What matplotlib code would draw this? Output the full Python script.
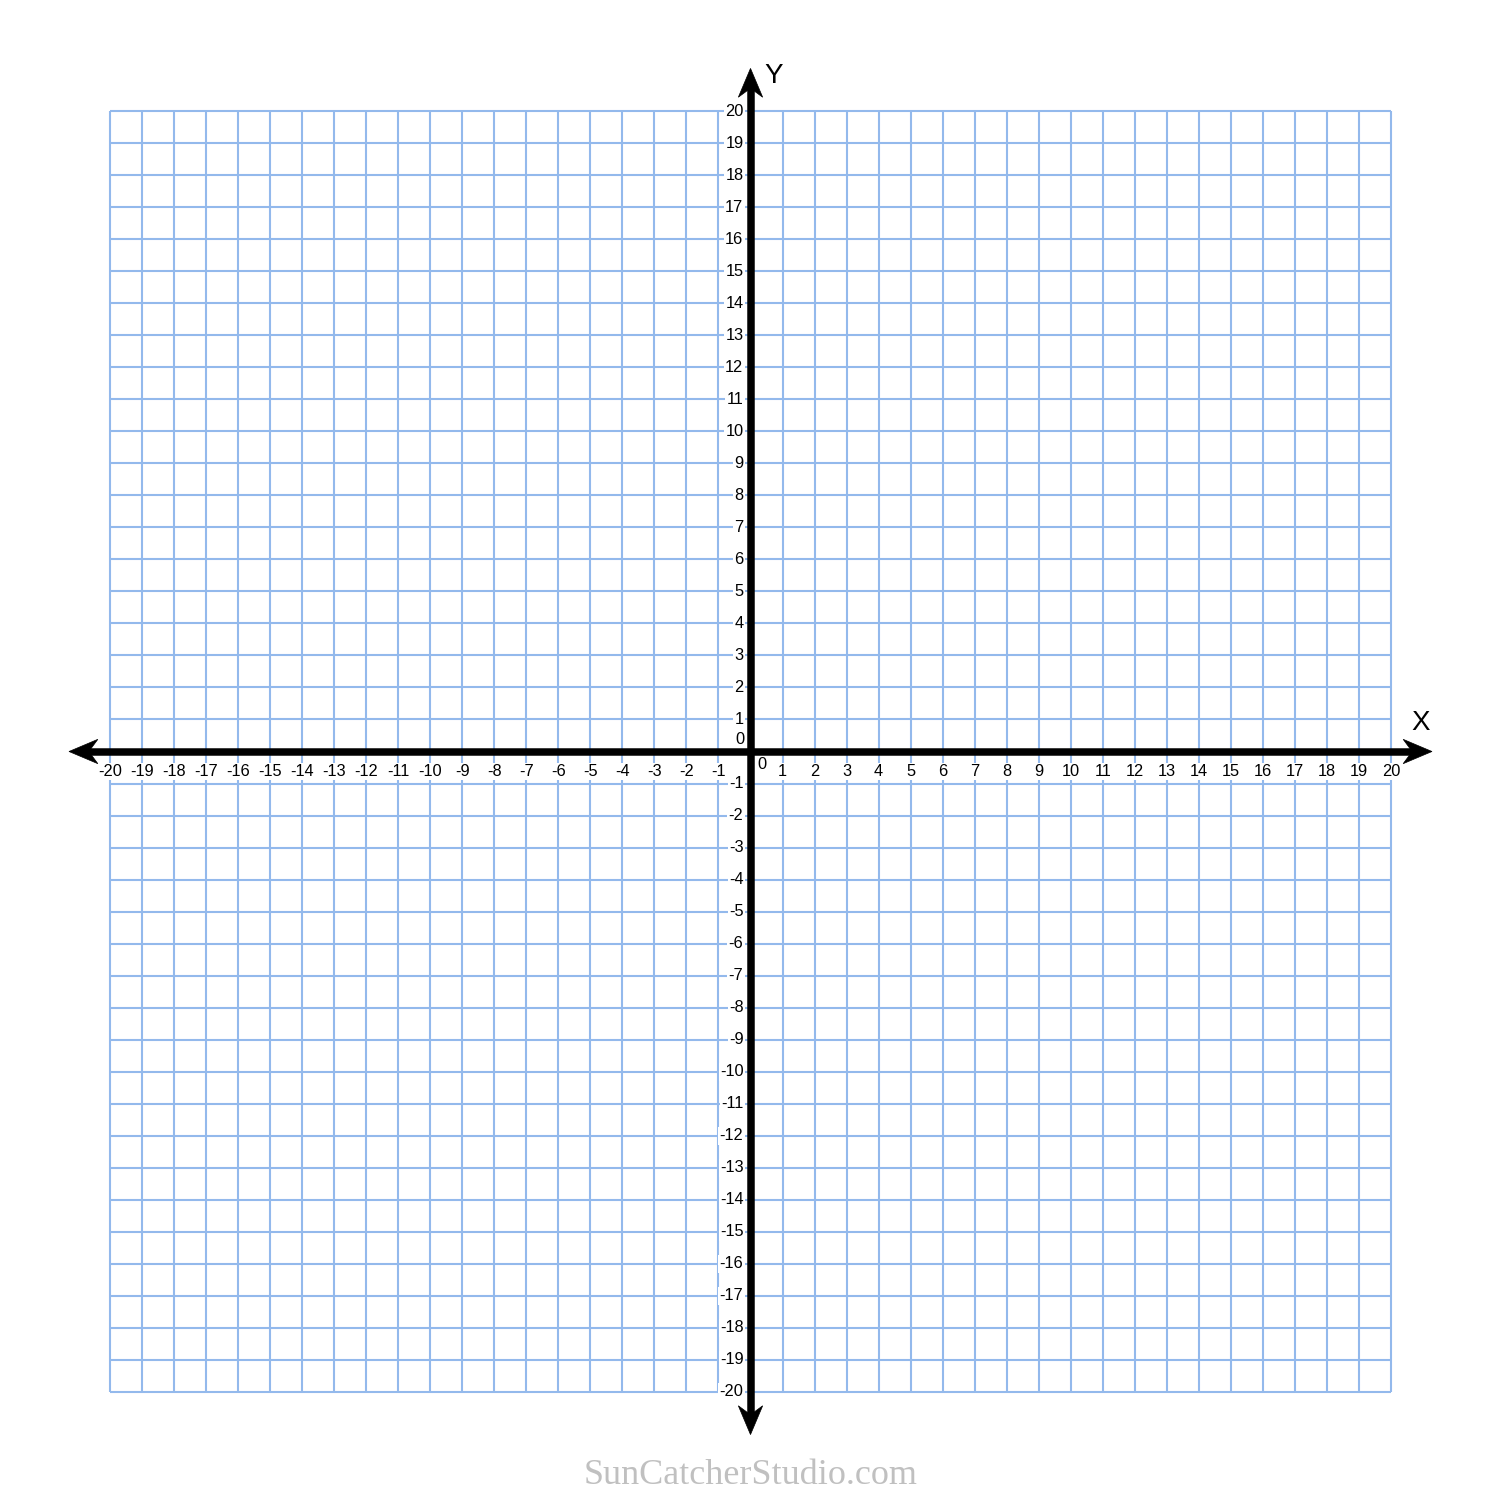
import matplotlib
matplotlib.use("Agg")
import matplotlib.pyplot as plt
from matplotlib.patches import Polygon
import numpy as np

# Data
x_ticks = list(range(-20, 21))
y_ticks = list(range(-20, 21))
x_labels = [str(v) for v in x_ticks if v != 0]
y_labels = [str(v) for v in y_ticks if v != 0]
axis_names = ["X", "Y"]
watermark = "SunCatcherStudio.com"

W, H, DPI = 1493, 1500, 100
fig = plt.figure(figsize=(W / DPI, H / DPI), dpi=DPI)
ax = fig.add_axes([0, 0, 1, 1])
scale = (1391 - 110) / 40.0
ox, oy = 750.5, 751.5
ax.set_xlim(-ox / scale, (W - ox) / scale)
ax.set_ylim(-(H - oy) / scale, oy / scale)
ax.axis("off")

grid_c = "#93b9ec"
lo, hi = min(x_ticks), max(x_ticks)
for v in x_ticks:
    ax.plot([v, v], [min(y_ticks), max(y_ticks)], color=grid_c, lw=1.5, zorder=1, solid_capstyle="butt")
for v in y_ticks:
    ax.plot([lo, hi], [v, v], color=grid_c, lw=1.5, zorder=1, solid_capstyle="butt")

font = "Liberation Sans"
fs = 11.8
bb = dict(facecolor="white", edgecolor="none", pad=1.0)
for v in x_ticks:
    if v == 0:
        continue
    ax.text(v, -0.62, str(v), ha="center", va="center", fontsize=fs, family=font,
            bbox=bb, zorder=2)
for v in y_ticks:
    if v == 0:
        continue
    ax.text(-0.22, v, str(v), ha="right", va="center", fontsize=fs, family=font,
            bbox=bb, zorder=2)
ax.text(-0.32, 0.37, "0", ha="center", va="center", fontsize=fs, family=font, zorder=2)
ax.text(0.36, -0.42, "0", ha="center", va="center", fontsize=fs, family=font, zorder=2)

# axes with arrowheads
tip = 21.33
L, hw, notch = 0.9, 0.38, 0.28
ax.plot([-tip + L - notch, tip - L + notch], [0, 0], color="black", lw=5.4, zorder=3, solid_capstyle="butt")
ax.plot([0, 0], [-tip + L - notch, tip - L + notch], color="black", lw=5.4, zorder=3, solid_capstyle="butt")

def head(p, d):
    d = np.array(d, float)
    n = np.array([-d[1], d[0]])
    p = np.array(p, float)
    back = p - d * L
    pts = [p, back + n * hw, p - d * (L - notch), back - n * hw]
    return np.array(pts)

for p, d in [((tip - 0.05, 0), (1, 0)), ((-tip + 0.05, 0), (-1, 0)),
             ((0, tip), (0, 1)), ((0, -tip), (0, -1))]:
    ax.add_patch(Polygon(head(p, d), closed=True, facecolor="black", edgecolor="black", lw=0.5, zorder=4))

ax.text(20.92, 0.9, axis_names[0], ha="center", va="center", fontsize=20, family=font, zorder=4)
ax.text(0.72, 21.1, axis_names[1], ha="center", va="center", fontsize=20, family=font, zorder=4)

ax.text(0, -22.61, watermark, ha="center", va="center", fontsize=26, family="Liberation Serif",
        color="#c0c0c0", zorder=4)

fig.savefig("out.png", dpi=DPI, facecolor="white")
